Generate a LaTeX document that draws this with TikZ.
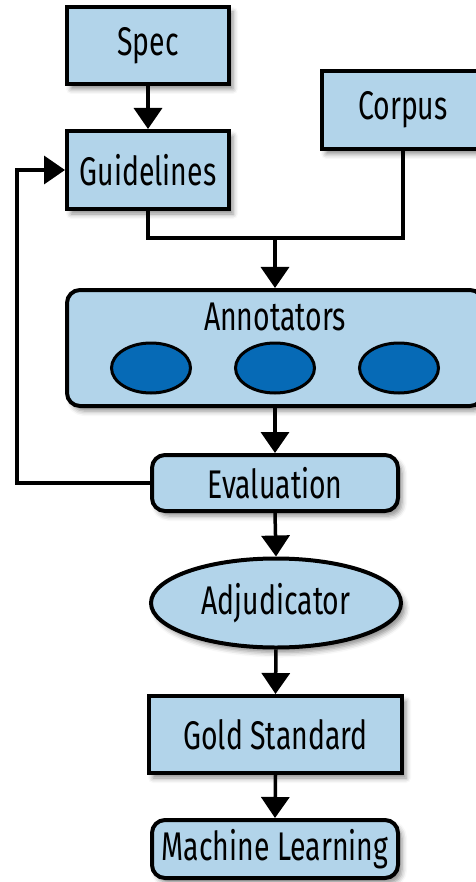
\documentclass[tikz,border=0pt]{standalone}
\usepackage{fontspec}
\setmainfont{Fira Sans}[FakeStretch=0.71]
\usetikzlibrary{arrows.meta,shapes.geometric,shadows.blur}
\definecolor{boxfill}{HTML}{B2D4EA}
\definecolor{annfill}{HTML}{066AB6}
\tikzset{
  x=1pt, y=-1pt,
  every node/.style={font=\fontsize{40}{44}\selectfont, inner sep=0pt, text=black},
  shade/.style={blur shadow={shadow xshift=4pt, shadow yshift=-5pt, shadow blur radius=5pt, shadow opacity=45}},
  sqbox/.style={rectangle, draw, line width=4pt, fill=boxfill, shade},
  rdbox/.style={sqbox, rounded corners=13pt},
  ovalbox/.style={ellipse, draw, line width=4pt, fill=boxfill, shade},
  annot/.style={ellipse, draw, line width=3pt, fill=annfill, minimum width=79pt, minimum height=50pt},
  link/.style={line width=3.5pt},
  arr/.style={link, -{Triangle[length=21pt,width=28pt]}},
}
\begin{document}
\begin{tikzpicture}
\useasboundingbox (0,0) rectangle (475,882);

% boxes
\node[sqbox, minimum width=162pt, minimum height=77pt] (spec) at (148,45.5) {Spec};
\node[sqbox, minimum width=162pt, minimum height=78pt] (guide) at (148,170) {Guidelines};
\node[sqbox, minimum width=162pt, minimum height=78pt] (corpus) at (403,110) {Corpus};
\node[rdbox, minimum width=416pt, minimum height=116pt] (ann) at (275,348) {};
\node (anntitle) at (275,317) {Annotators};
\node[annot] (a1) at (151,368) {};
\node[annot] (a2) at (275,368) {};
\node[annot] (a3) at (399,368) {};
\node[rdbox, minimum width=246pt, minimum height=56pt] (eval) at (275,483) {Evaluation};
\node[ovalbox, minimum width=250pt, minimum height=89pt] (adj) at (276,603) {Adjudicator};
\node[sqbox, minimum width=253pt, minimum height=77pt] (gold) at (275.5,734.5) {Gold Standard};
\node[rdbox, minimum width=246pt, minimum height=58pt] (ml) at (275,849) {Machine Learning};

% connectors
\coordinate (join) at (275,238);
\coordinate (back) at (17,483);
\draw[arr] (spec) -- (guide);
\draw[link] (guide.south) |- (join) -| (corpus.south);
\draw[arr] (join) -- (ann.north);
\draw[arr] (ann.south) -- (eval.north);
\draw[arr] (eval.west) -- (back) |- (guide.west);
\draw[arr] (eval.south) -- (adj.north);
\draw[arr] (adj.south) -- (gold.north);
\draw[arr] (gold.south) -- (ml.north);
\end{tikzpicture}
\end{document}
